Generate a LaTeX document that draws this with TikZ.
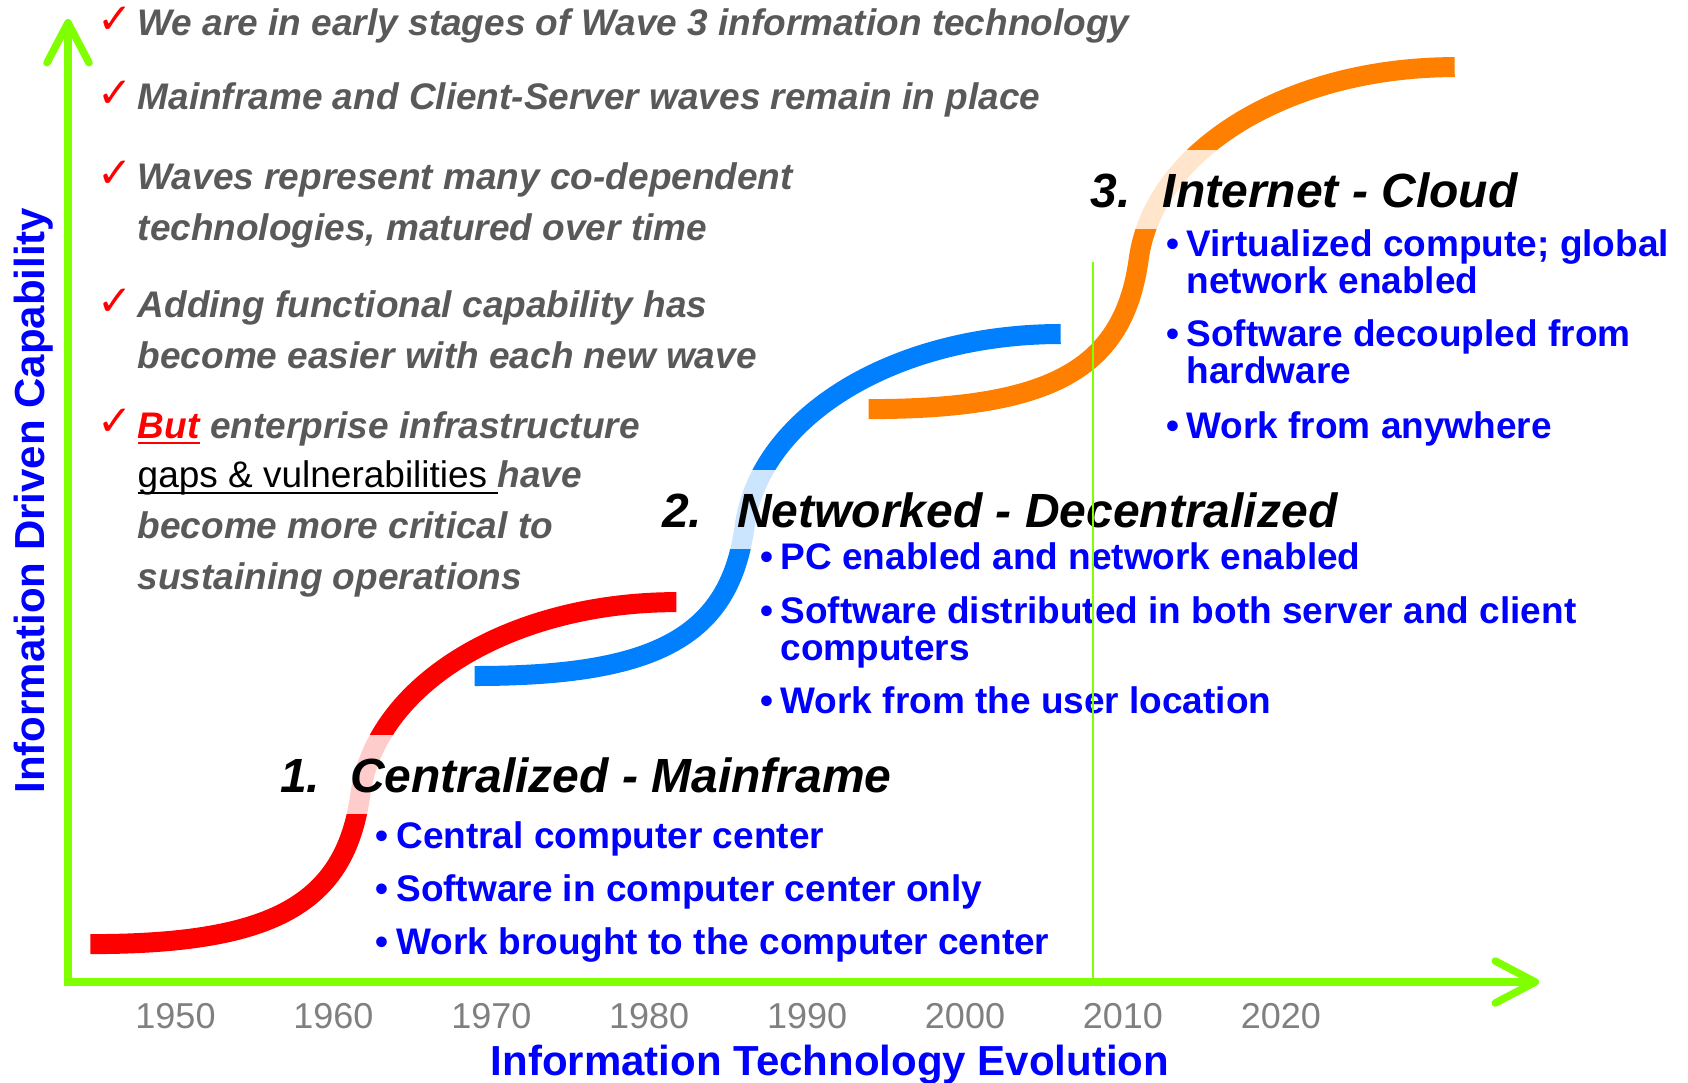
\documentclass[tikz,border=0pt]{standalone}
\usepackage{fontspec}
\setmainfont{Liberation Sans}
\newfontfamily\tickfont{DejaVu Sans}
\usetikzlibrary{arrows.meta}
\definecolor{axisgreen}{RGB}{128,255,0}
\definecolor{notegray}{RGB}{89,89,89}
\definecolor{yeargray}{RGB}{128,128,128}
\definecolor{itemblue}{RGB}{0,0,255}
\definecolor{wavered}{RGB}{255,0,0}
\definecolor{waveblue}{RGB}{0,128,255}
\definecolor{waveorange}{RGB}{255,128,0}

\begin{document}
\begin{tikzpicture}[x=1pt, y=-1pt,
    axisline/.style={axisgreen, line width=7.5pt, -{Straight Barb[length=40pt, width=42pt, round]}},
    wave/.style={line width=20pt},
    chk/.style={red, font=\tickfont\fontsize{42}{48}\selectfont, inner sep=0pt, anchor=base west},
    note/.style={notegray, font=\fontsize{37}{44}\selectfont\bfseries\itshape, inner sep=0pt, anchor=base west},
    item/.style={itemblue, font=\fontsize{37}{44}\selectfont\bfseries, inner sep=0pt, anchor=base west},
    wavetitle/.style={font=\fontsize{48}{56}\selectfont\bfseries\itshape, fill=white, fill opacity=0.8, text opacity=1,
        inner xsep=8pt, inner ysep=22pt, text height=35pt, text depth=0pt, anchor=base west},
    yearlabel/.style={yeargray, font=\fontsize{36}{42}\selectfont, inner sep=0pt, anchor=base},
    axislabel/.style={itemblue, font=\fontsize{42}{50}\selectfont\bfseries, inner sep=0pt, anchor=base}]

    \useasboundingbox (0,0) rectangle (1688,1082);

    \coordinate (ybase) at (68,986);
    \coordinate (ytip) at (68,19);
    \coordinate (xbase) at (64,982);
    \coordinate (xtip) at (1539,982);
    \draw[axisline] (ybase) -- (ytip);
    \draw[axisline] (xbase) -- (xtip);

    % the three waves, same s-shape
    \foreach \col/\sx/\sy in {wavered/90.4/944.1, waveblue/474.7/676, waveorange/868.7/409.1}
        \draw[wave, color=\col, shift={(\sx,\sy)}] (0,0) .. controls (183,0) and (255,-40) .. (270,-150)
            .. controls (285,-260) and (420,-342) .. (586,-342);

    \node[chk] (c1) at (97,33) {✓};
    \node[chk] (c2) at (97,107.3) {✓};
    \node[chk] (c3) at (97,187) {✓};
    \node[chk] (c4) at (97,315.1) {✓};
    \node[chk] (c5) at (97,435.6) {✓};

    \node[note] (n1) at (137.5,35.5) {We are in early stages of Wave 3 information technology};
    \node[note] (n2) at (137.5,109.8) {Mainframe and Client-Server waves remain in place};
    \node[note] (n3a) at (137.5,189.5) {Waves represent many co-dependent};
    \node[note] (n3b) at (137.5,240) {technologies, matured over time};
    \node[note] (n4a) at (137.5,317.6) {Adding functional capability has};
    \node[note] (n4b) at (137.5,368.2) {become easier with each new wave};
    \node[note, red] (n5but) at (137.5,438.1) {But};
    \node[note] (n5a) at (n5but.base east) {\ enterprise infrastructure};
    \node[note, black, font=\fontsize{37}{44}\selectfont] (n5gap) at (137.5,487.7) {gaps \& vulnerabilities\hspace{10pt}\mbox{}};
    \node[note] (n5b) at (n5gap.base east) {have};
    \node[note] (n5c) at (137.5,538.3) {become more critical to};
    \node[note] (n5d) at (137.5,589.9) {sustaining operations};
    \draw[red, line width=2.5pt] ([yshift=-5pt]n5but.base west) -- ([yshift=-5pt]n5but.base east);
    \draw[black, line width=2pt] ([yshift=-5pt]n5gap.base west) -- ([yshift=-5pt]n5gap.base east);

    \node[wavetitle] (t1) at (272,792) {1.\hspace{30pt}Centralized - Mainframe};
    \node[wavetitle] (t2) at (654,527.3) {2.\hspace{35pt}Networked - Decentralized};
    \node[wavetitle] (t3) at (1082.5,207.3) {3.\hspace{32pt}Internet - Cloud};

    \node[item] (w1a) at (396.2,848) {\llap{•\hspace{7.5pt}}Central computer center};
    \node[item] (w1b) at (396.2,901) {\llap{•\hspace{7.5pt}}Software in computer center only};
    \node[item] (w1c) at (396.2,954) {\llap{•\hspace{7.5pt}}Work brought to the computer center};

    \node[item] (w2a) at (780.5,569.5) {\llap{•\hspace{7.5pt}}PC enabled and network enabled};
    \node[item] (w2b) at (780.5,623.3) {\llap{•\hspace{7.5pt}}Software distributed in both server and client};
    \node[item] (w2c) at (780.5,660) {computers};
    \node[item] (w2d) at (780.5,713.7) {\llap{•\hspace{7.5pt}}Work from the user location};

    \node[item] (w3a) at (1186.3,256.2) {\llap{•\hspace{7.5pt}}Virtualized compute; global};
    \node[item] (w3b) at (1186.3,293.9) {network enabled};
    \node[item] (w3c) at (1186.3,346.6) {\llap{•\hspace{7.5pt}}Software decoupled from};
    \node[item] (w3d) at (1186.3,383.2) {hardware};
    \node[item] (w3e) at (1186.3,438.1) {\llap{•\hspace{7.5pt}}Work from anywhere};

    \foreach \yr [count=\i from 0] in {1950,1960,...,2020}
        \node[yearlabel] (yr\yr) at ({175.5+157.9*\i},1028) {\yr};

    \node[axislabel] (xlabel) at (830,1075) {Information Technology Evolution};
    \node[axislabel, rotate=90] (ylabel) at (44,500.6) {Information Driven Capability};

    \coordinate (nowtop) at (1093,262);
    \coordinate (nowbase) at (1093,980);
    \draw[axisgreen, line width=2pt] (nowtop) -- (nowbase);

\end{tikzpicture}
\end{document}
